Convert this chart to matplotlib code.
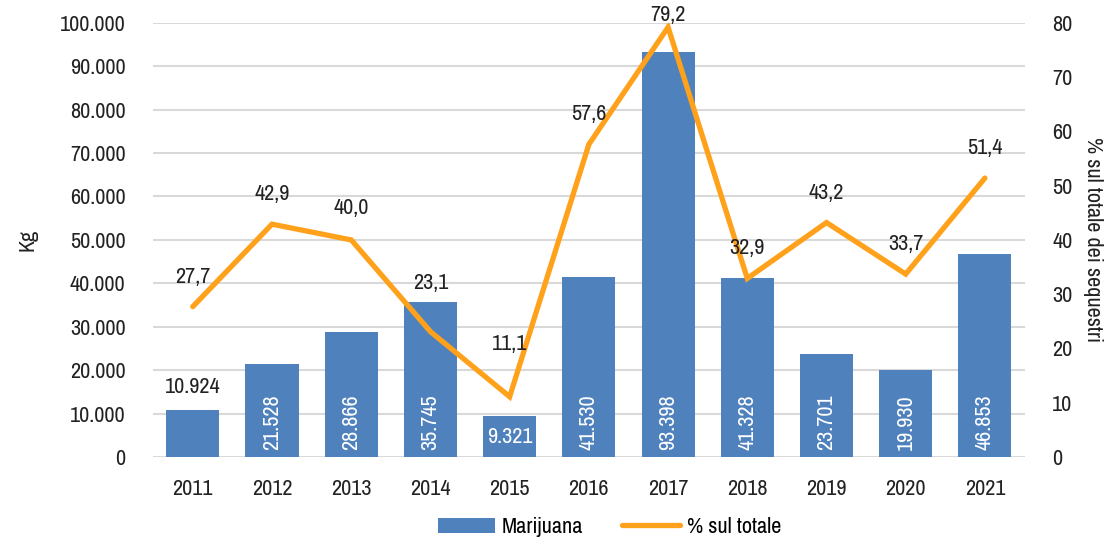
import matplotlib
matplotlib.use('Agg')
import matplotlib.pyplot as plt
from matplotlib import font_manager
import numpy as np

# data
anni = ['2011', '2012', '2013', '2014', '2015', '2016', '2017', '2018', '2019', '2020', '2021']
kg = [10924, 21528, 28866, 35745, 9321, 41530, 93398, 41328, 23701, 19930, 46853]
perc = [27.7, 42.9, 40.0, 23.1, 11.1, 57.6, 79.2, 32.9, 43.2, 33.7, 51.4]
# vertical offset (points) of the % labels above each point
perc_off = [21.6, 21.6, 23, 35, 21.6, 21.6, 8.6, 22, 21.6, 21.6, 21.6]
perc_off[4] = 38

# look for a narrow font, else fall back on Liberation Sans
narrow = None
for f in font_manager.fontManager.ttflist:
    if 'Narrow' in f.name or 'Condensed' in f.name:
        narrow = f.name
        break
if narrow:
    plt.rcParams['font.family'] = [narrow, 'DejaVu Sans']
    fs = 16
else:
    plt.rcParams['font.family'] = ['Liberation Sans', 'DejaVu Sans']
    fs = 14.5
plt.rcParams['font.size'] = fs

blue = '#4F81BD'
orange = '#FFA11A'
txt = '#222222'

def fmt_it(v):
    return '{:,}'.format(v).replace(',', '.')

fig = plt.figure(figsize=(11.1, 5.44), dpi=100)
ax = fig.add_axes([0.138, 0.16, 0.785, 0.798])
ax2 = ax.twinx()

x = np.arange(len(anni))
bars = ax.bar(x, kg, width=0.67, color=blue, zorder=2, label='Marijuana')
ax.set_ylim(0, 100000)
ax.set_xlim(-0.5, len(anni) - 0.5)
ax.set_yticks(np.arange(0, 100001, 10000))
ax.set_yticklabels([fmt_it(v) for v in range(0, 100001, 10000)])
ax.yaxis.grid(True, color='#D9D9D9', linewidth=1.5, zorder=0)
ax.set_axisbelow(True)
ax.set_xticks(x)
ax.set_xticklabels(anni)
ax.tick_params(length=0, colors=txt, labelsize=fs)
ax.tick_params(axis='y', pad=20)
ax.tick_params(axis='x', pad=16)
for s in ax.spines.values():
    s.set_visible(False)
ax.set_ylabel('Kg', fontsize=fs, labelpad=16, color=txt)

# bar labels (inside base, rotated)
for i, v in enumerate(kg):
    if i == 0:
        ax.annotate(fmt_it(v), (x[i], v), xytext=(0, 16.5), textcoords='offset points',
                    ha='center', va='center', fontsize=fs, color=txt)
    elif v < 15000:
        ax.annotate(fmt_it(v), (x[i], 0), xytext=(0, 14.5), textcoords='offset points',
                    ha='center', va='center', fontsize=fs, color='white',
                    bbox=dict(boxstyle='square,pad=0.15', fc=blue, ec='none'))
    else:
        ax.annotate(fmt_it(v), (x[i], 0), xytext=(0, 5), textcoords='offset points',
                    ha='center', va='bottom', fontsize=fs, color='white', rotation=90)

line, = ax2.plot(x, perc, color=orange, linewidth=3.8, solid_capstyle='round',
                 solid_joinstyle='miter', zorder=3, label='% sul totale')
ax2.set_ylim(0, 80)
ax2.set_yticks(np.arange(0, 81, 10))
ax2.tick_params(length=0, colors=txt, labelsize=fs, pad=20)
for s in ax2.spines.values():
    s.set_visible(False)
ax2.set_ylabel('% sul totale dei sequestri', fontsize=fs, rotation=270, labelpad=22, color=txt)

for i, p in enumerate(perc):
    ax2.annotate('{:.1f}'.format(p).replace('.', ','), (x[i], p), xytext=(0, perc_off[i]),
                 textcoords='offset points', ha='center', va='center', fontsize=fs,
                 color=txt, annotation_clip=False)

fig.legend([bars, line], ['Marijuana', '% sul totale'], loc='center',
           bbox_to_anchor=(0.549, 0.031), ncol=2, frameon=False, fontsize=fs,
           handlelength=2.6, handleheight=0.7, handletextpad=0.3, columnspacing=1.75)

fig.savefig('out.png', dpi=100)
